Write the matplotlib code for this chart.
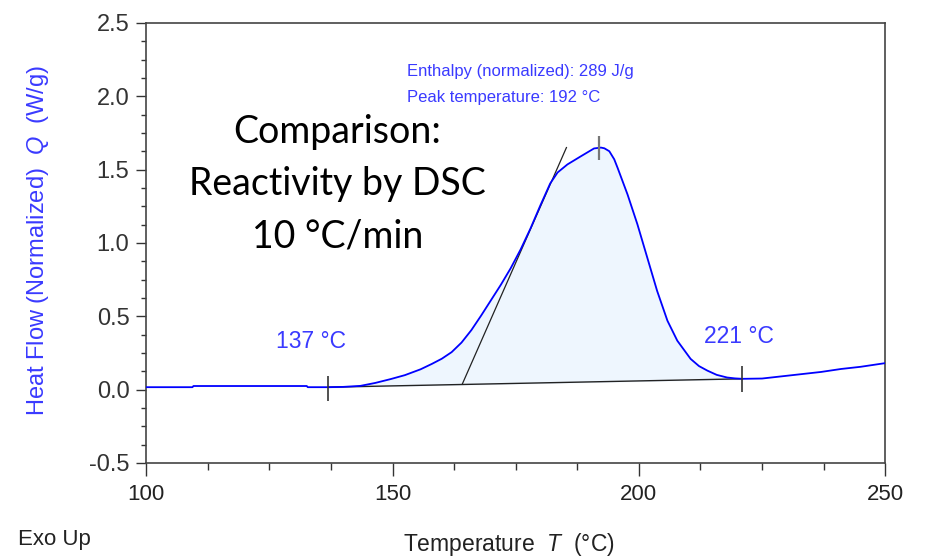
import numpy as np
import matplotlib
matplotlib.use('Agg')
import matplotlib.pyplot as plt

plt.rcParams['font.family'] = ['Liberation Sans', 'DejaVu Sans']
plt.rcParams['mathtext.fontset'] = 'custom'
plt.rcParams['mathtext.rm'] = 'Liberation Sans'
plt.rcParams['mathtext.it'] = 'Liberation Sans:italic'

# -------------------------------------------------
# DSC curve (°C, W/g)
# -------------------------------------------------
temp = [100, 109.4, 109.6, 132.6, 132.8, 137, 140, 143.5, 146.5, 149.6, 152.5,
        155.7, 158, 160, 162, 164, 166, 168, 170, 172, 174, 176, 178, 180,
        182, 183.5, 185.5, 188.2, 190.9, 192.3, 193, 194, 195, 195.7, 197.7,
        199.7, 201.7, 203.7, 205.8, 207.8, 210.5, 212.2, 213.9, 215.8, 217.9,
        219.5, 221, 225, 229, 233, 237, 241, 245, 250]
heat_flow = [0.016, 0.016, 0.024, 0.024, 0.016, 0.016, 0.018, 0.025, 0.045,
             0.071, 0.098, 0.138, 0.175, 0.210, 0.255, 0.320, 0.405, 0.505,
             0.610, 0.715, 0.828, 0.955, 1.098, 1.255, 1.405, 1.480, 1.535,
             1.590, 1.644, 1.650, 1.645, 1.625, 1.570, 1.510, 1.330, 1.127,
             0.900, 0.673, 0.469, 0.333, 0.209, 0.160, 0.129, 0.100, 0.082,
             0.076, 0.073, 0.075, 0.090, 0.105, 0.120, 0.140, 0.155, 0.180]

onset_T, peak_T, end_T = 137, 192, 221
baseline_T = [onset_T, end_T]
baseline_Q = [0.016, 0.073]
tangent_T = [164.2, 185.3]
tangent_Q = [0.04, 1.65]

enthalpy = 289

blue = '#0000ff'
text_blue = '#3a3aff'

fig = plt.figure(figsize=(9.25, 5.59), dpi=100)
ax = fig.add_axes([0.158, 0.172, 0.799, 0.787])

t = np.array(temp)
q = np.array(heat_flow)

# shaded integration area between curve and baseline
mask = (t >= onset_T) & (t <= end_T)
base = np.interp(t[mask], baseline_T, baseline_Q)
ax.fill_between(t[mask], base, q[mask], color='#eef6fe', zorder=1)

ax.plot(baseline_T, baseline_Q, color='#222222', lw=1.0, zorder=2)
ax.plot(tangent_T, tangent_Q, color='#222222', lw=0.9, zorder=2)
ax.plot(t, q, color=blue, lw=1.3, zorder=3)

# onset / peak / endset markers
ax.vlines(onset_T, -0.075, 0.095, color='#333333', lw=1.2, zorder=4)
ax.vlines(end_T, -0.018, 0.163, color='#333333', lw=1.2, zorder=4)
ax.vlines(peak_T, 1.563, 1.728, color='#777777', lw=1.6, zorder=4)

ax.text(onset_T - 3.5, 0.33, f'{onset_T} °C', color=text_blue, fontsize=16.5,
        ha='center', va='center')
ax.text(end_T - 0.7, 0.36, f'{end_T} °C', color=text_blue, fontsize=16.5,
        ha='center', va='center')
ax.text(153, 2.17, f'Enthalpy (normalized): {enthalpy} J/g', color=text_blue,
        fontsize=12, ha='left', va='center')
ax.text(153, 1.99, f'Peak temperature: {peak_T} °C', color=text_blue,
        fontsize=12, ha='left', va='center')

ax.text(138.8, 1.40, 'Comparison:\nReactivity by DSC\n10 °C/min', color='black',
        fontsize=27, family=['Lato', 'DejaVu Sans'], ha='center', va='center',
        linespacing=1.55)

ax.set_xlim(100, 250)
ax.set_ylim(-0.5, 2.5)
ax.set_xticks([100, 150, 200, 250])
ax.set_xticks(np.arange(100, 250, 12.5), minor=True)
ax.set_yticks(np.arange(-0.5, 2.51, 0.5))
ax.set_yticks(np.arange(-0.5, 2.5, 0.125), minor=True)
ax.yaxis.set_major_formatter(matplotlib.ticker.FormatStrFormatter('%.1f'))

ax.tick_params(axis='x', which='major', length=9, width=1, color='#333333',
               labelsize=16, labelcolor='#222222', pad=6)
ax.tick_params(axis='x', which='minor', length=5, width=1, color='#333333')
ax.tick_params(axis='y', which='major', length=7, width=1, color='#333333',
               labelsize=17, labelcolor='#333333', pad=5)
ax.tick_params(axis='y', which='minor', length=3.6, width=1, color='#333333')
for s in ax.spines.values():
    s.set_color('#444444')
    s.set_linewidth(1.2)

ax.set_ylabel(r'Heat Flow (Normalized)  $Q$  (W/g)', color=text_blue,
              fontsize=17, va='center')
ax.yaxis.set_label_coords(-0.146, 0.505)
ax.set_xlabel(r'Temperature  $T$  (°C)', color='#222222', fontsize=16.5,
              va='center')
ax.xaxis.set_label_coords(0.491, -0.186)

fig.text(0.059, 0.034, 'Exo Up', fontsize=16, color='#222222', ha='center',
         va='center')

fig.savefig('out.png', dpi=100)
